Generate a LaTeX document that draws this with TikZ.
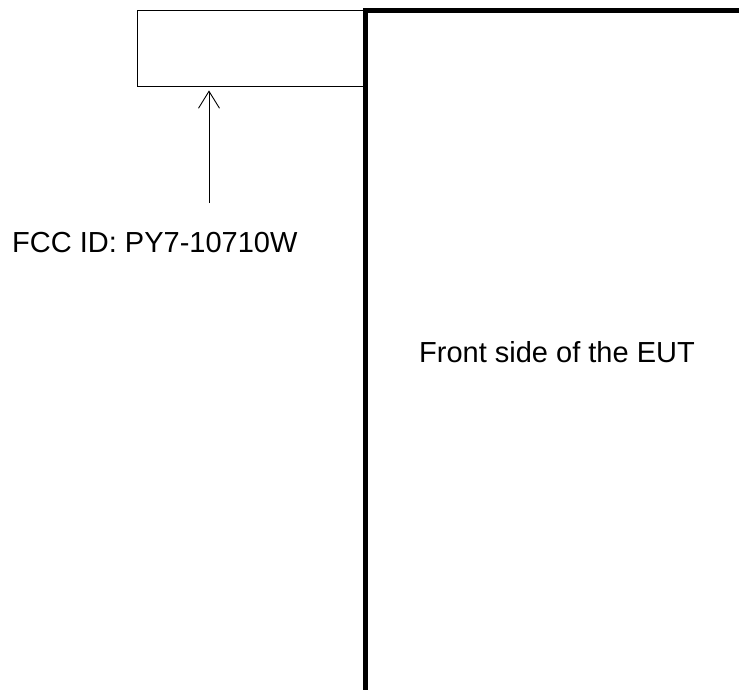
\documentclass[tikz,border=0pt]{standalone}
\usepackage{fontspec}
\setmainfont{Liberation Sans}
\usetikzlibrary{arrows.meta,calc,positioning}
\tikzset{
    labelbox/.style={draw=black,line width=0.8pt,rectangle,minimum width=226pt,minimum height=76pt,inner sep=0pt},
    euwall/.style={line width=4.6pt,draw=black},
    pointer/.style={-{Straight Barb[length=17pt,width=21pt,line width=0.9pt]},line width=0.9pt},
    every node/.style={font=\fontsize{29}{34}\selectfont,inner sep=0pt}
}

\begin{document}
\begin{tikzpicture}[x=1pt,y=-1pt]
  \useasboundingbox (0,0) rectangle (739,690);
  \node[labelbox] (label) at (250,48) {};
  \draw[euwall] (365.5,690) -- (365.5,10.5) -- (739,10.5);
  \node[anchor=base west] (fccid) at (12,252) {FCC ID: PY7-10710W};
  \coordinate (tail) at (209,203);
  \draw[pointer,shorten >=4pt] (tail) -- (tail |- label.south);
  \node[anchor=base west] (front) at (419,362) {Front side of the EUT};
\end{tikzpicture}
\end{document}
